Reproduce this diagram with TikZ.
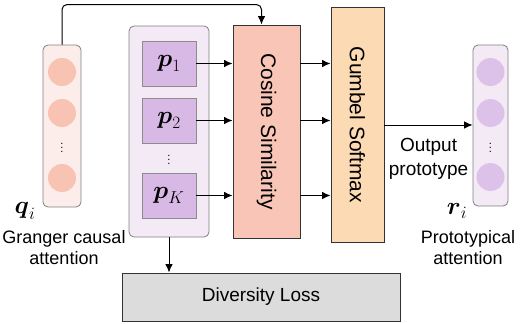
\documentclass[tikz,border=0pt]{standalone}
\usepackage{amsmath}
\usepackage{fontspec}
\setmainfont{Liberation Sans}
\usetikzlibrary{positioning, arrows.meta, calc}

\definecolor{qback}{HTML}{FDEDEA}
\definecolor{qdot}{HTML}{F8C3B3}
\definecolor{pback}{HTML}{F3EAF6}
\definecolor{pfill}{HTML}{D8B8E4}
\definecolor{rdot}{HTML}{DCC2E8}
\definecolor{cosfill}{HTML}{F8C5B6}
\definecolor{gumfill}{HTML}{FCDAB3}
\definecolor{lossfill}{HTML}{DCDCDC}

\begin{document}
\begin{tikzpicture}[x=1pt, y=-1pt,
    font=\fontsize{18}{21}\selectfont,
    vec/.style={rounded corners=5pt, draw=black!50, line width=0.8pt, minimum width=38pt, minimum height=162pt},
    unit/.style={circle, inner sep=0pt, minimum size=28pt},
    proto/.style={draw=black!45, fill=pfill, line width=0.8pt, minimum width=54pt, minimum height=45pt,
                  font=\fontsize{23}{25}\selectfont},
    block/.style={draw=black!80, line width=0.9pt, inner sep=0pt},
    vdot/.style={inner sep=0pt, font=\fontsize{11}{12}\selectfont},
    link/.style={-{Latex[length=8.5pt, width=7.5pt]}, draw=black, line width=1pt}
]
\useasboundingbox (0,0) rectangle (528,324);

% query vector
\node[vec, fill=qback] (qbox) at (62,126) {};
\node[unit, fill=qdot] (q1) at (62,72) {};
\node[unit, fill=qdot] (q2) at (62,113) {};
\node[unit, fill=qdot] (q3) at (62,178) {};
\node[vdot] (qdots) at (62,145) {$\vdots$};
\node[font=\fontsize{24}{26}\selectfont] (qlab) at (25,211) {$\boldsymbol{q}_i$};
\node[align=center] (qtxt) at (64,248) {Granger causal\\attention};

% prototypes
\node[vec, fill=pback, minimum width=80pt, minimum height=211pt] (pbox) at (169,131.5) {};
\node[proto] (p1) at (169,63.5) {$\boldsymbol{p}_1$};
\node[proto] (p2) at (169,120.5) {$\boldsymbol{p}_2$};
\node[proto] (pK) at (169,195.5) {$\boldsymbol{p}_K$};
\node[vdot] (pdots) at (169,157) {$\vdots$};

% similarity and selection
\node[block, fill=cosfill, minimum width=67pt, minimum height=213pt] (cos) at (266.5,131.5) {};
\node[rotate=-90, font=\fontsize{21}{23}\selectfont] at (cos) {Cosine Similarity};
\node[block, fill=gumfill, minimum width=53pt, minimum height=235pt] (gum) at (357.5,125) {};
\node[rotate=-90, font=\fontsize{21}{23}\selectfont] at (gum) {Gumbel Softmax};

% output vector
\node[vec, fill=pback, minimum width=35pt, minimum height=161pt] (rbox) at (490.5,125.5) {};
\node[unit, fill=rdot] (r1) at (490.5,72) {};
\node[unit, fill=rdot] (r2) at (490.5,113) {};
\node[unit, fill=rdot] (r3) at (490.5,177) {};
\node[vdot] (rdots) at (490.5,145) {$\vdots$};
\node[font=\fontsize{24}{26}\selectfont] (rlab) at (457,211) {$\boldsymbol{r}_i$};
\node[align=center] (rtxt) at (468,248) {Prototypical\\attention};

% loss
\node[block, fill=lossfill, minimum width=278pt, minimum height=48pt, font=\fontsize{19}{21}\selectfont] (loss) at (261,297) {Diversity Loss};

\draw[link, rounded corners=5pt] (qbox.north) |- ([xshift=-5pt, yshift=20pt]cos.north) -- ([xshift=-5pt]cos.north);
\foreach \p in {p1,p2,pK}{
  \draw[link] (\p.east) -- (\p.east -| cos.west);
  \draw[link] (\p.east -| cos.east) -- (\p.east -| gum.west);
}
\draw[link] (gum.east) -- (gum.east -| rbox.west) node[midway, below=9pt, align=center, font=\fontsize{19}{24}\selectfont] (outlab) {Output\\prototype};
\draw[link] (pbox.south) -- (pbox.south |- loss.north);
\end{tikzpicture}
\end{document}
